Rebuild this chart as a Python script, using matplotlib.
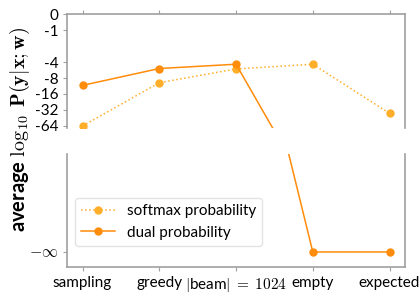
import numpy as np
import matplotlib
matplotlib.use('Agg')
import matplotlib.pyplot as plt

plt.rcParams['mathtext.fontset'] = 'cm'
plt.rcParams['font.family'] = ['Lato', 'DejaVu Sans']

# data (average log10 probabilities, -inf drawn at NEG)
methods = ['sampling', 'greedy', r'$|$beam$|\;=\;1024$', 'empty', 'expected']
softmax = [-64, -9.8, -5.4, -4.4, -37]
NEG = -1450.0
dual = [-11, -5.3, -4.4, NEG, NEG]
ytick_vals = [0, -1, -4, -8, -16, -32, -64]
ytick_labels = ['0', '-1', '-4', '-8', '-16', '-32', '-64']

c_soft = '#ffae2a'
c_dual = '#ff8c0a'
gray = '#a0a0a0'

fig = plt.figure(figsize=(4.2, 2.93), dpi=100)
ax1 = fig.add_axes([0.16, 0.563, 0.804, 0.389])
ax2 = fig.add_axes([0.16, 0.089, 0.804, 0.385])

x = np.arange(len(methods))
for ax in (ax1, ax2):
    ax.plot(x, softmax, ':', color=c_soft, marker='o', ms=5, lw=1.1, label='softmax probability')
    ax.plot(x, dual, '-', color=c_dual, marker='o', ms=5, lw=1.1, label='dual probability')
    ax.set_xlim(-0.2, 4.2)
    for s in ax.spines.values():
        s.set_color(gray)
        s.set_linewidth(1.2)
    ax.tick_params(colors=gray, labelcolor='black', length=3, labelsize=11)

ax1.set_yscale('symlog', base=2, linthresh=1, linscale=0.5)
ax1.set_ylim(-70, 0)
ax1.set_yticks(ytick_vals)
ax1.set_yticklabels(ytick_labels)
ax1.yaxis.set_minor_locator(matplotlib.ticker.NullLocator())
ax1.spines['bottom'].set_visible(False)
ax1.xaxis.tick_top()
ax1.set_xticks(x)
ax1.set_xticklabels([])

span = (dual[2] - NEG) / 313.0
ax2.set_ylim(NEG - 15 * span, NEG + 98 * span)
ax2.set_yticks([NEG])
ax2.set_yticklabels([r'$-\infty$'], fontsize=11.5)
ax2.spines['top'].set_visible(False)
ax2.set_xticks(x)
ax2.set_xticklabels(methods)

ax2.legend(loc='lower left', bbox_to_anchor=(0.0, 0.12), fontsize=11, edgecolor='#dddddd', fancybox=True,
           handlelength=2.2)

fig.text(0.048, 0.56, r'average $\log_{10}$ $\mathbf{P}(\mathbf{y}|\mathbf{x};\mathbf{w})$',
         rotation=90, va='center', ha='center', fontsize=14.5, fontweight='bold')

fig.savefig('out.png', dpi=100)
